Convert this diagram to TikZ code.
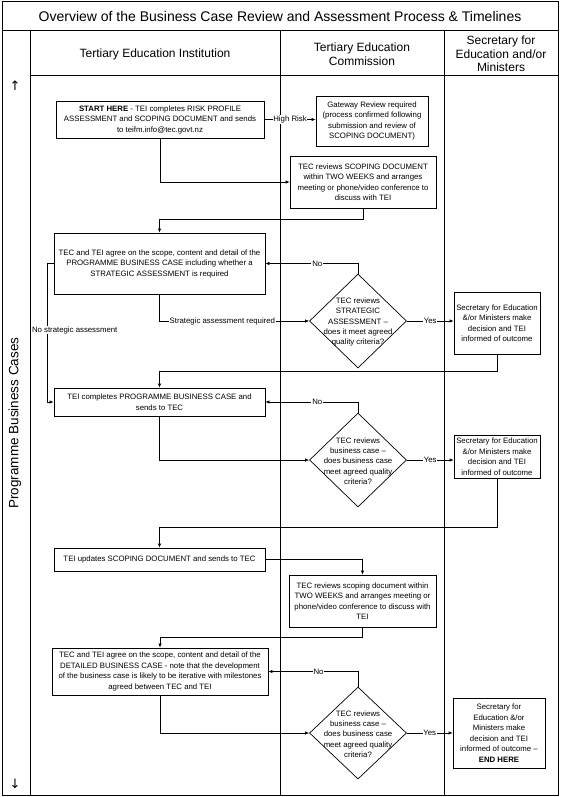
\documentclass[tikz,border=0pt]{standalone}
\usepackage{fontspec}
\setmainfont{Liberation Sans}
\newfontfamily\dejavu{DejaVu Sans}
\usetikzlibrary{shapes.geometric,arrows.meta}
\begin{document}
\begin{tikzpicture}[x=1pt,y=-1pt,
 box/.style={draw, line width=0.7pt, align=center, font=\fontsize{7.8}{10.5}\selectfont, inner sep=1pt},
 dia/.style={draw, line width=0.7pt, diamond, inner sep=0pt, minimum width=97pt, minimum height=94pt},
 dtext/.style={align=center, font=\fontsize{7.8}{10.3}\selectfont, inner sep=0pt},
 conn/.style={line width=0.7pt, -{Latex[length=4pt,width=3.5pt]}},
 lbl/.style={fill=white, inner sep=0.8pt, font=\fontsize{7.8}{9}\selectfont},
 frame/.style={line width=1pt},
 head/.style={align=center, font=\fontsize{12}{13.5}\selectfont, inner sep=0pt},
 lanearrow/.style={font=\dejavu\fontsize{13}{15}\selectfont, inner sep=0pt},
]
\useasboundingbox (0,0) rectangle (561,797);
\draw[frame] (2,2) rectangle (558,795);
\draw[frame] (2,31) -- (558,31);
\draw[frame] (30,31) -- (30,795);
\draw[frame] (30,76) -- (558,76);
\draw[frame] (280,31) -- (280,795);
\draw[frame] (444,31) -- (444,795);

\node[font=\fontsize{14}{16}\selectfont] (title) at (280,16) {Overview of the Business Case Review and Assessment Process \& Timelines};
\node[head] (h1) at (155,54) {Tertiary Education Institution};
\node[head] (h2) at (362,54) {Tertiary Education\\Commission};
\node[head] (h3) at (501,54) {Secretary for\\Education and/or\\Ministers};
\node[rotate=90, font=\fontsize{13.5}{15}\selectfont] (lane) at (15,423) {Programme Business Cases};
\node[lanearrow] (up) at (15,86) {↑};
\node[lanearrow] (down) at (15,784) {↓};

% boxes
\node[box, minimum width=208pt, minimum height=37pt] (start) at (160,119.5)
 {\textbf{START HERE} - TEI completes RISK PROFILE\\ASSESSMENT and SCOPING DOCUMENT and sends\\to teifm.info@tec.govt.nz};
\node[box, minimum width=112pt, minimum height=50pt] (gateway) at (372,121)
 {Gateway Review required\\(process confirmed following\\submission and review of\\SCOPING DOCUMENT)};
\node[box, minimum width=146pt, minimum height=52pt] (tecrev1) at (363,182)
 {TEC reviews SCOPING DOCUMENT\\within TWO WEEKS and arranges\\meeting or phone/video conference to\\discuss with TEI};
\node[box, minimum width=211pt, minimum height=61pt] (agree1) at (159.5,263.5)
 {TEC and TEI agree on the scope, content and detail of the\\PROGRAMME BUSINESS CASE including whether a\\STRATEGIC ASSESSMENT is required};
\node[dia] (d1) at (358,321) {};
\node[dtext] (d1t) at (358,322) {TEC reviews\\STRATEGIC\\ASSESSMENT \textendash\\does it meet agreed\\quality criteria?};
\node[box, minimum width=86pt, minimum height=62pt] (sec1) at (497,323)
 {Secretary for Education\\\&/or Ministers make\\decision and TEI\\informed of outcome};
\node[box, minimum width=211pt, minimum height=28pt] (tei2) at (159.5,402)
 {TEI completes PROGRAMME BUSINESS CASE and\\sends to TEC};
\node[dia] (d2) at (358,460) {};
\node[dtext] (d2t) at (358,461) {TEC reviews\\business case \textendash\\does business case\\meet agreed quality\\criteria?};
\node[box, minimum width=86pt, minimum height=43pt] (sec2) at (497,456.5)
 {Secretary for Education\\\&/or Ministers make\\decision and TEI\\informed of outcome};
\node[box, minimum width=211pt, minimum height=23pt] (tei3) at (159.5,559.5)
 {TEI updates SCOPING DOCUMENT and sends to TEC};
\node[box, minimum width=147pt, minimum height=52pt] (tecrev2) at (362.5,601)
 {TEC reviews scoping document within\\TWO WEEKS and arranges meeting or\\phone/video conference to discuss with\\TEI};
\node[box, minimum width=216pt, minimum height=47pt] (agree2) at (160,671.5)
 {TEC and TEI agree on the scope, content and detail of the\\DETAILED BUSINESS CASE - note that the development\\of the business case is likely to be iterative with milestones\\agreed between TEC and TEI};
\node[dia, minimum height=92pt] (d3) at (358,733) {};
\node[dtext] (d3t) at (358,734) {TEC reviews\\business case \textendash\\does business case\\meet agreed quality\\criteria?};
\node[box, minimum width=92pt, minimum height=70pt] (sec3) at (499,733)
 {Secretary for\\Education \&/or\\Ministers make\\decision and TEI\\informed of outcome \textendash\\\textbf{END HERE}};

% connectors
\draw[conn] (start.east) -- node[lbl]{High Risk} (start.east -| gateway.west);
\draw[conn] (start.south) |- (tecrev1.west);
\draw[conn] (tecrev1.south) -- ++(0,11) -| (agree1.north);
\draw[conn] (d1.north) |- node[lbl,pos=0.72]{No} (agree1.east);
\draw[conn] (agree1.south) |- node[lbl,pos=0.71]{Strategic assessment required} (d1.west);
\draw[conn] (d1.east) -- node[lbl]{Yes} (d1.east -| sec1.west);
\draw[conn] (sec1.south) -- ++(0,17) -| (tei2.north);
\draw[conn] (agree1.west) -- ++(-6,0) |- (tei2.west);
\node[lbl, anchor=west] (nsa) at (31,330) {No strategic assessment};
\draw[conn] (d2.north) |- node[lbl,pos=0.72]{No} (tei2.east);
\draw[conn] (tei2.south) |- (d2.west);
\draw[conn] (d2.east) -- node[lbl]{Yes} (d2.east -| sec2.west);
\draw[conn] (sec2.south) -- ++(0,49) -| (tei3.north);
\draw[conn] (tei3.east) -| (tecrev2.north);
\draw[conn] (tecrev2.south) -- ++(0,10) -| (agree2.north);
\draw[conn] (d3.north) |- node[lbl,pos=0.72]{No} (agree2.east);
\draw[conn] (agree2.south) |- (d3.west);
\draw[conn] (d3.east) -- node[lbl]{Yes} (d3.east -| sec3.west);
\end{tikzpicture}
\end{document}
